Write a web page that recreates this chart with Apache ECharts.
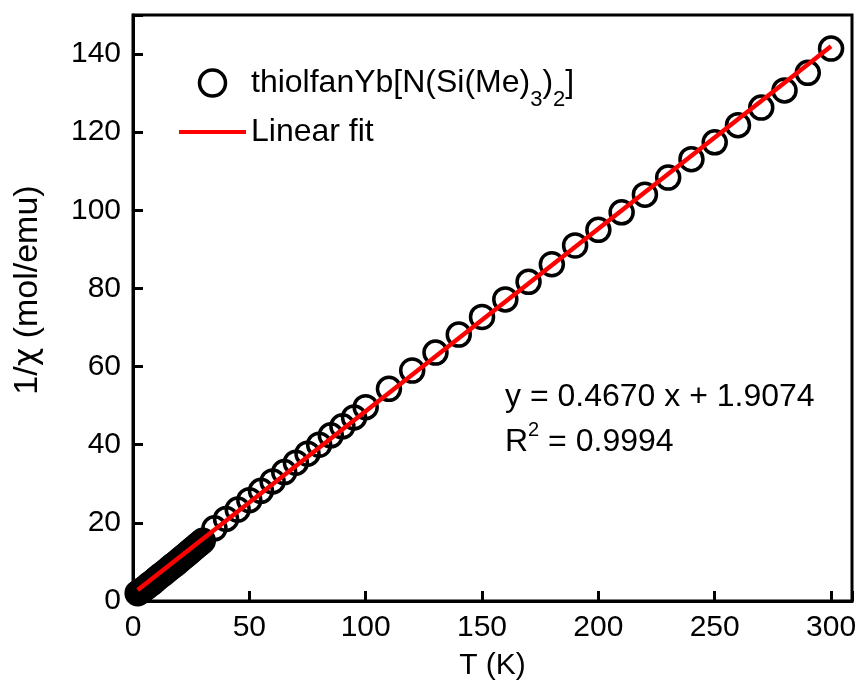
<!DOCTYPE html>
<html>
<head>
<meta charset="utf-8">
<script src="https://cdn.jsdelivr.net/npm/echarts@6/dist/echarts.min.js"></script>
<style>
html,body{margin:0;padding:0;background:#fff;}
#chart{width:862px;height:692px;}
</style>
</head>
<body>
<div id="chart"></div>
<script>
// ---- data ----
var temps = [2,3,4,5,6,7,8,9,10,11,12,13,14,15,16,17,18,19,20,21,22,23,24,25,26,27,28,29,30,
  35,40,45,50,55,60,65,70,75,80,85,90,95,100,
  110,120,130,140,150,160,170,180,190,200,210,220,230,240,250,260,270,280,290,300];
var invChi = [2.0,2.4,2.8,3.2,3.7,4.2,4.6,5.1,5.6,6.1,6.6,7.0,7.5,8.0,8.5,9.0,9.4,9.9,10.4,10.9,11.4,11.9,12.4,12.9,13.4,13.9,14.4,14.9,15.4,
  18.6,21.0,23.4,25.8,28.2,30.6,33.0,35.4,37.7,40.0,42.4,44.7,47.0,49.6,
  54.3,59.0,63.6,68.2,72.7,77.2,81.7,86.2,91.0,95.0,99.5,104.0,108.4,113.1,117.4,121.8,126.3,130.7,135.2,141.4];
var fitT = [2, 300];
var fitV = [2.84, 142.0];
var xTicks = [0, 50, 100, 150, 200, 250, 300];
var yTicks = [0, 20, 40, 60, 80, 100, 120, 140];
var seriesName = 'thiolfanYb[N(Si(Me)3)2]';
var fitName = 'Linear fit';
var eqLine1 = 'y = 0.4670 x + 1.9074';
var r2Value = ' = 0.9994';

var FONT = '"Liberation Sans", Arial, sans-serif';
var chart = echarts.init(document.getElementById('chart'), null, {renderer: 'canvas'});

var scatterData = temps.map(function (t, i) { return [t, invChi[i]]; });
var fitData = fitT.map(function (t, i) { return [t, fitV[i]]; });

var option = {
  backgroundColor: '#fff',
  animation: false,
  grid: {left: 133, top: 15, right: 10, bottom: 91, show: true, borderColor: '#000', borderWidth: 3, backgroundColor: 'transparent'},
  legend: {
    orient: 'vertical',
    left: 179,
    top: 67,
    padding: 0,
    itemWidth: 67,
    itemHeight: 26,
    itemGap: 5,
    selectedMode: false,
    textStyle: {
      fontFamily: FONT, fontSize: 32, color: '#000',
      rich: {
        a: {fontFamily: FONT, fontSize: 32, lineHeight: 32, verticalAlign: 'top', color: '#000'},
        s: {fontFamily: FONT, fontSize: 22, lineHeight: 22, verticalAlign: 'top', padding: [22, 0, 0, 0], color: '#000'}
      }
    },
    formatter: function (name) {
      if (name === seriesName) {
        return '{a|thiolfanYb[N(Si(Me)}{s|3}{a|)}{s|2}{a|]}';
      }
      return name;
    },
    data: [
      {name: seriesName, icon: 'circle', itemStyle: {color: 'rgba(0,0,0,0)', borderColor: '#000', borderWidth: 3.5, opacity: 1}},
      {name: fitName, icon: 'path://M0,0 L0,0 M0,11 L67,11 L67,15 L0,15 Z M0,26 L0,26',
        itemStyle: {color: '#ff0000', borderWidth: 0, opacity: 1}}
    ]
  },
  xAxis: {
    type: 'value', min: 0, max: 309, interval: 50,
    name: 'T (K)', nameLocation: 'middle', nameGap: 50,
    nameTextStyle: {fontFamily: FONT, fontSize: 30, color: '#000'},
    axisLine: {show: true, lineStyle: {color: '#000', width: 3}},
    axisTick: {show: true, inside: true, length: 10, lineStyle: {color: '#000', width: 3}},
    axisLabel: {fontFamily: FONT, fontSize: 30, color: '#000', margin: 12,
      formatter: function (v) { return xTicks.indexOf(v) >= 0 ? String(v) : ''; }},
    splitLine: {show: false}
  },
  yAxis: {
    type: 'value', min: 0, max: 150, interval: 20,
    name: '{a|1/}{c|χ}{a| (mol/emu)}', nameLocation: 'middle', nameGap: 88,
    nameTextStyle: {fontFamily: FONT, fontSize: 34, color: '#000', padding: [0, 0, 0, 36],
      rich: {
        a: {fontFamily: FONT, fontSize: 34, color: '#000'},
        c: {fontFamily: '"DejaVu Sans", sans-serif', fontSize: 32, color: '#000'}
      }},
    axisLine: {show: true, lineStyle: {color: '#000', width: 3}},
    axisTick: {show: true, inside: true, length: 10, lineStyle: {color: '#000', width: 3}},
    axisLabel: {fontFamily: FONT, fontSize: 30, color: '#000', margin: 12,
      formatter: function (v) { return yTicks.indexOf(v) >= 0 ? String(v) : ''; }},
    splitLine: {show: false}
  },
  series: [
    {
      name: seriesName,
      type: 'scatter',
      data: scatterData,
      symbol: 'circle',
      symbolSize: 23,
      itemStyle: {color: 'rgba(0,0,0,0)', borderColor: '#000', borderWidth: 3.5, opacity: 1},
      emphasis: {disabled: true},
      z: 2
    },
    {
      name: fitName,
      type: 'line',
      data: fitData,
      symbol: 'none',
      showSymbol: false,
      lineStyle: {color: '#ff0000', width: 4.5, opacity: 1},
      itemStyle: {color: '#ff0000'},
      emphasis: {disabled: true},
      z: 3
    }
  ],
  graphic: [
    {
      type: 'text', left: 505, top: 381,
      style: {text: eqLine1, font: '32px ' + FONT, fill: '#000'}
    },
    {
      type: 'text', left: 505, top: 420,
      style: {
        text: '{a|R}{sup|2}{a|' + r2Value + '}',
        fill: '#000',
        rich: {
          a: {fontFamily: FONT, fontSize: 32, lineHeight: 38, verticalAlign: 'bottom', fill: '#000'},
          sup: {fontFamily: FONT, fontSize: 20, lineHeight: 20, verticalAlign: 'top', fill: '#000'}
        }
      }
    }
  ]
};
chart.setOption(option);
</script>
</body>
</html>
